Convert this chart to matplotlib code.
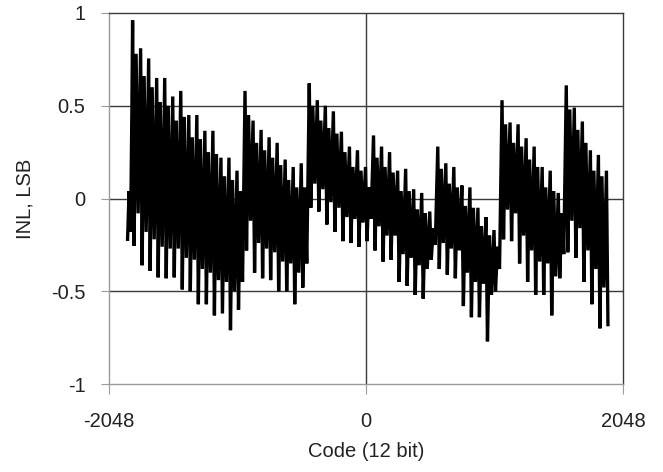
import numpy as np
import matplotlib
matplotlib.use("Agg")
import matplotlib.pyplot as plt

plt.rcParams["font.family"] = ["Liberation Sans", "DejaVu Sans"]

# ── INL data (one tooth per 64 codes) ───────────────────────────────────────
tooth_start = -1860
tooth_step = 64

lead_in = [-0.22, 0.04, -0.18, 0.45]

peak = [
    0.96, 0.81, 0.755, 0.65, 0.65, 0.55, 0.58, 0.45, 0.45, 0.365,
    0.365, 0.22, 0.22, 0.15, 0.58, 0.42, 0.37, 0.33, 0.30, 0.21,
    0.17, 0.19, 0.62, 0.53, 0.50, 0.47, 0.36, 0.28, 0.26, 0.17,
    0.34, 0.28, 0.25, 0.15, 0.16, 0.05, 0.03, -0.07, 0.28, 0.19,
    0.17, 0.07, 0.06, -0.05, -0.10, -0.17, 0.53, 0.41, 0.40, 0.325,
    0.28, 0.17, 0.15, 0.03, 0.61, 0.49, 0.415, 0.26, 0.235, 0.15,
]
trough = [
    -0.255, -0.36, -0.39, -0.425, -0.43, -0.425, -0.49, -0.50, -0.57, -0.57,
    -0.63, -0.62, -0.71, -0.60, -0.28, -0.40, -0.43, -0.44, -0.50, -0.50,
    -0.57, -0.48, -0.05, -0.07, -0.14, -0.18, -0.23, -0.24, -0.26, -0.23,
    -0.28, -0.34, -0.33, -0.45, -0.47, -0.52, -0.54, -0.33, -0.38, -0.41,
    -0.43, -0.58, -0.64, -0.64, -0.77, -0.50, -0.22, -0.23, -0.35, -0.45,
    -0.52, -0.52, -0.63, -0.43, -0.29, -0.32, -0.45, -0.57, -0.70, -0.68,
]
core_hi = [
    0.78, 0.66, 0.60, 0.52, 0.50, 0.42, 0.44, 0.33, 0.32, 0.25,
    0.24, 0.12, 0.10, 0.04, 0.45, 0.30, 0.26, 0.22, 0.18, 0.10,
    0.06, 0.06, 0.50, 0.42, 0.38, 0.35, 0.25, 0.17, 0.15, 0.06,
    0.22, 0.17, 0.14, 0.04, 0.04, -0.06, -0.08, -0.16, 0.16, 0.08,
    0.06, -0.04, -0.05, -0.15, -0.20, -0.26, 0.40, 0.30, 0.28, 0.21,
    0.17, 0.06, 0.04, -0.08, 0.48, 0.37, 0.30, 0.15, 0.12, 0.04,
]
core_lo = [
    -0.08, -0.18, -0.22, -0.26, -0.27, -0.27, -0.32, -0.33, -0.38, -0.40,
    -0.44, -0.45, -0.50, -0.45, -0.12, -0.24, -0.27, -0.29, -0.34, -0.35,
    -0.40, -0.35, 0.08, 0.05, -0.02, -0.05, -0.10, -0.11, -0.13, -0.11,
    -0.15, -0.20, -0.20, -0.30, -0.32, -0.36, -0.38, -0.25, -0.24, -0.27,
    -0.28, -0.40, -0.45, -0.46, -0.52, -0.38, -0.06, -0.08, -0.20, -0.28,
    -0.34, -0.35, -0.42, -0.30, -0.12, -0.16, -0.28, -0.38, -0.48, -0.48,
]

x_ticks = [-2048, 0, 2048]
y_ticks = [-1, -0.5, 0, 0.5, 1]
y_tick_labels = ["-1", "-0.5", "0", "0.5", "1"]

# ── build the trace: peak -> trough -> core_hi -> core_lo per tooth ─────────
offsets = [0, 12, 28, 44]
codes, inl = [], []
lead_codes = tooth_start - np.array([40, 28, 16, 6])
codes.extend(lead_codes.tolist())
inl.extend(lead_in)
for k in range(len(peak)):
    base = tooth_start + k * tooth_step
    for off, val in zip(offsets, (peak[k], trough[k], core_hi[k], core_lo[k])):
        codes.append(base + off)
        inl.append(val)
codes, inl = codes[:-2], inl[:-2]

# ── plot ────────────────────────────────────────────────────────────────────
fig = plt.figure(figsize=(6.63, 4.72), dpi=100)
ax = fig.add_axes([109 / 663, 1 - 384 / 472, (623 - 109) / 663, (384 - 13) / 472])

grid_c = "#3a3a3a"
for y in [-0.5, 0, 0.5]:
    ax.axhline(y, color=grid_c, lw=1.0, zorder=1)
ax.axvline(0, color=grid_c, lw=1.0, zorder=1)

ax.plot(codes, inl, color="black", lw=2.4, solid_joinstyle="miter", zorder=3)

ax.set_xlim(-2048, 2048)
ax.set_ylim(-1, 1)
ax.set_xticks(x_ticks)
ax.set_xticklabels([str(t) for t in x_ticks])
ax.set_yticks(y_ticks)
ax.set_yticklabels(y_tick_labels)

for side in ["top", "right"]:
    ax.spines[side].set_color(grid_c)
    ax.spines[side].set_linewidth(1.0)
for side in ["left", "bottom"]:
    ax.spines[side].set_color("#9a9a9a")
    ax.spines[side].set_linewidth(1.0)

ax.tick_params(axis="x", direction="out", length=7, color="#9a9a9a",
               pad=13, labelsize=14.5, labelcolor="#222222")
ax.tick_params(axis="y", direction="out", length=6, color="#9a9a9a",
               pad=11, labelsize=14.5, labelcolor="#222222")

ax.set_xlabel("Code (12 bit)", fontsize=14.5, color="#222222", labelpad=8)
ax.set_ylabel("INL, LSB", fontsize=14.5, color="#222222", labelpad=12)

fig.savefig("out.png", dpi=100)
